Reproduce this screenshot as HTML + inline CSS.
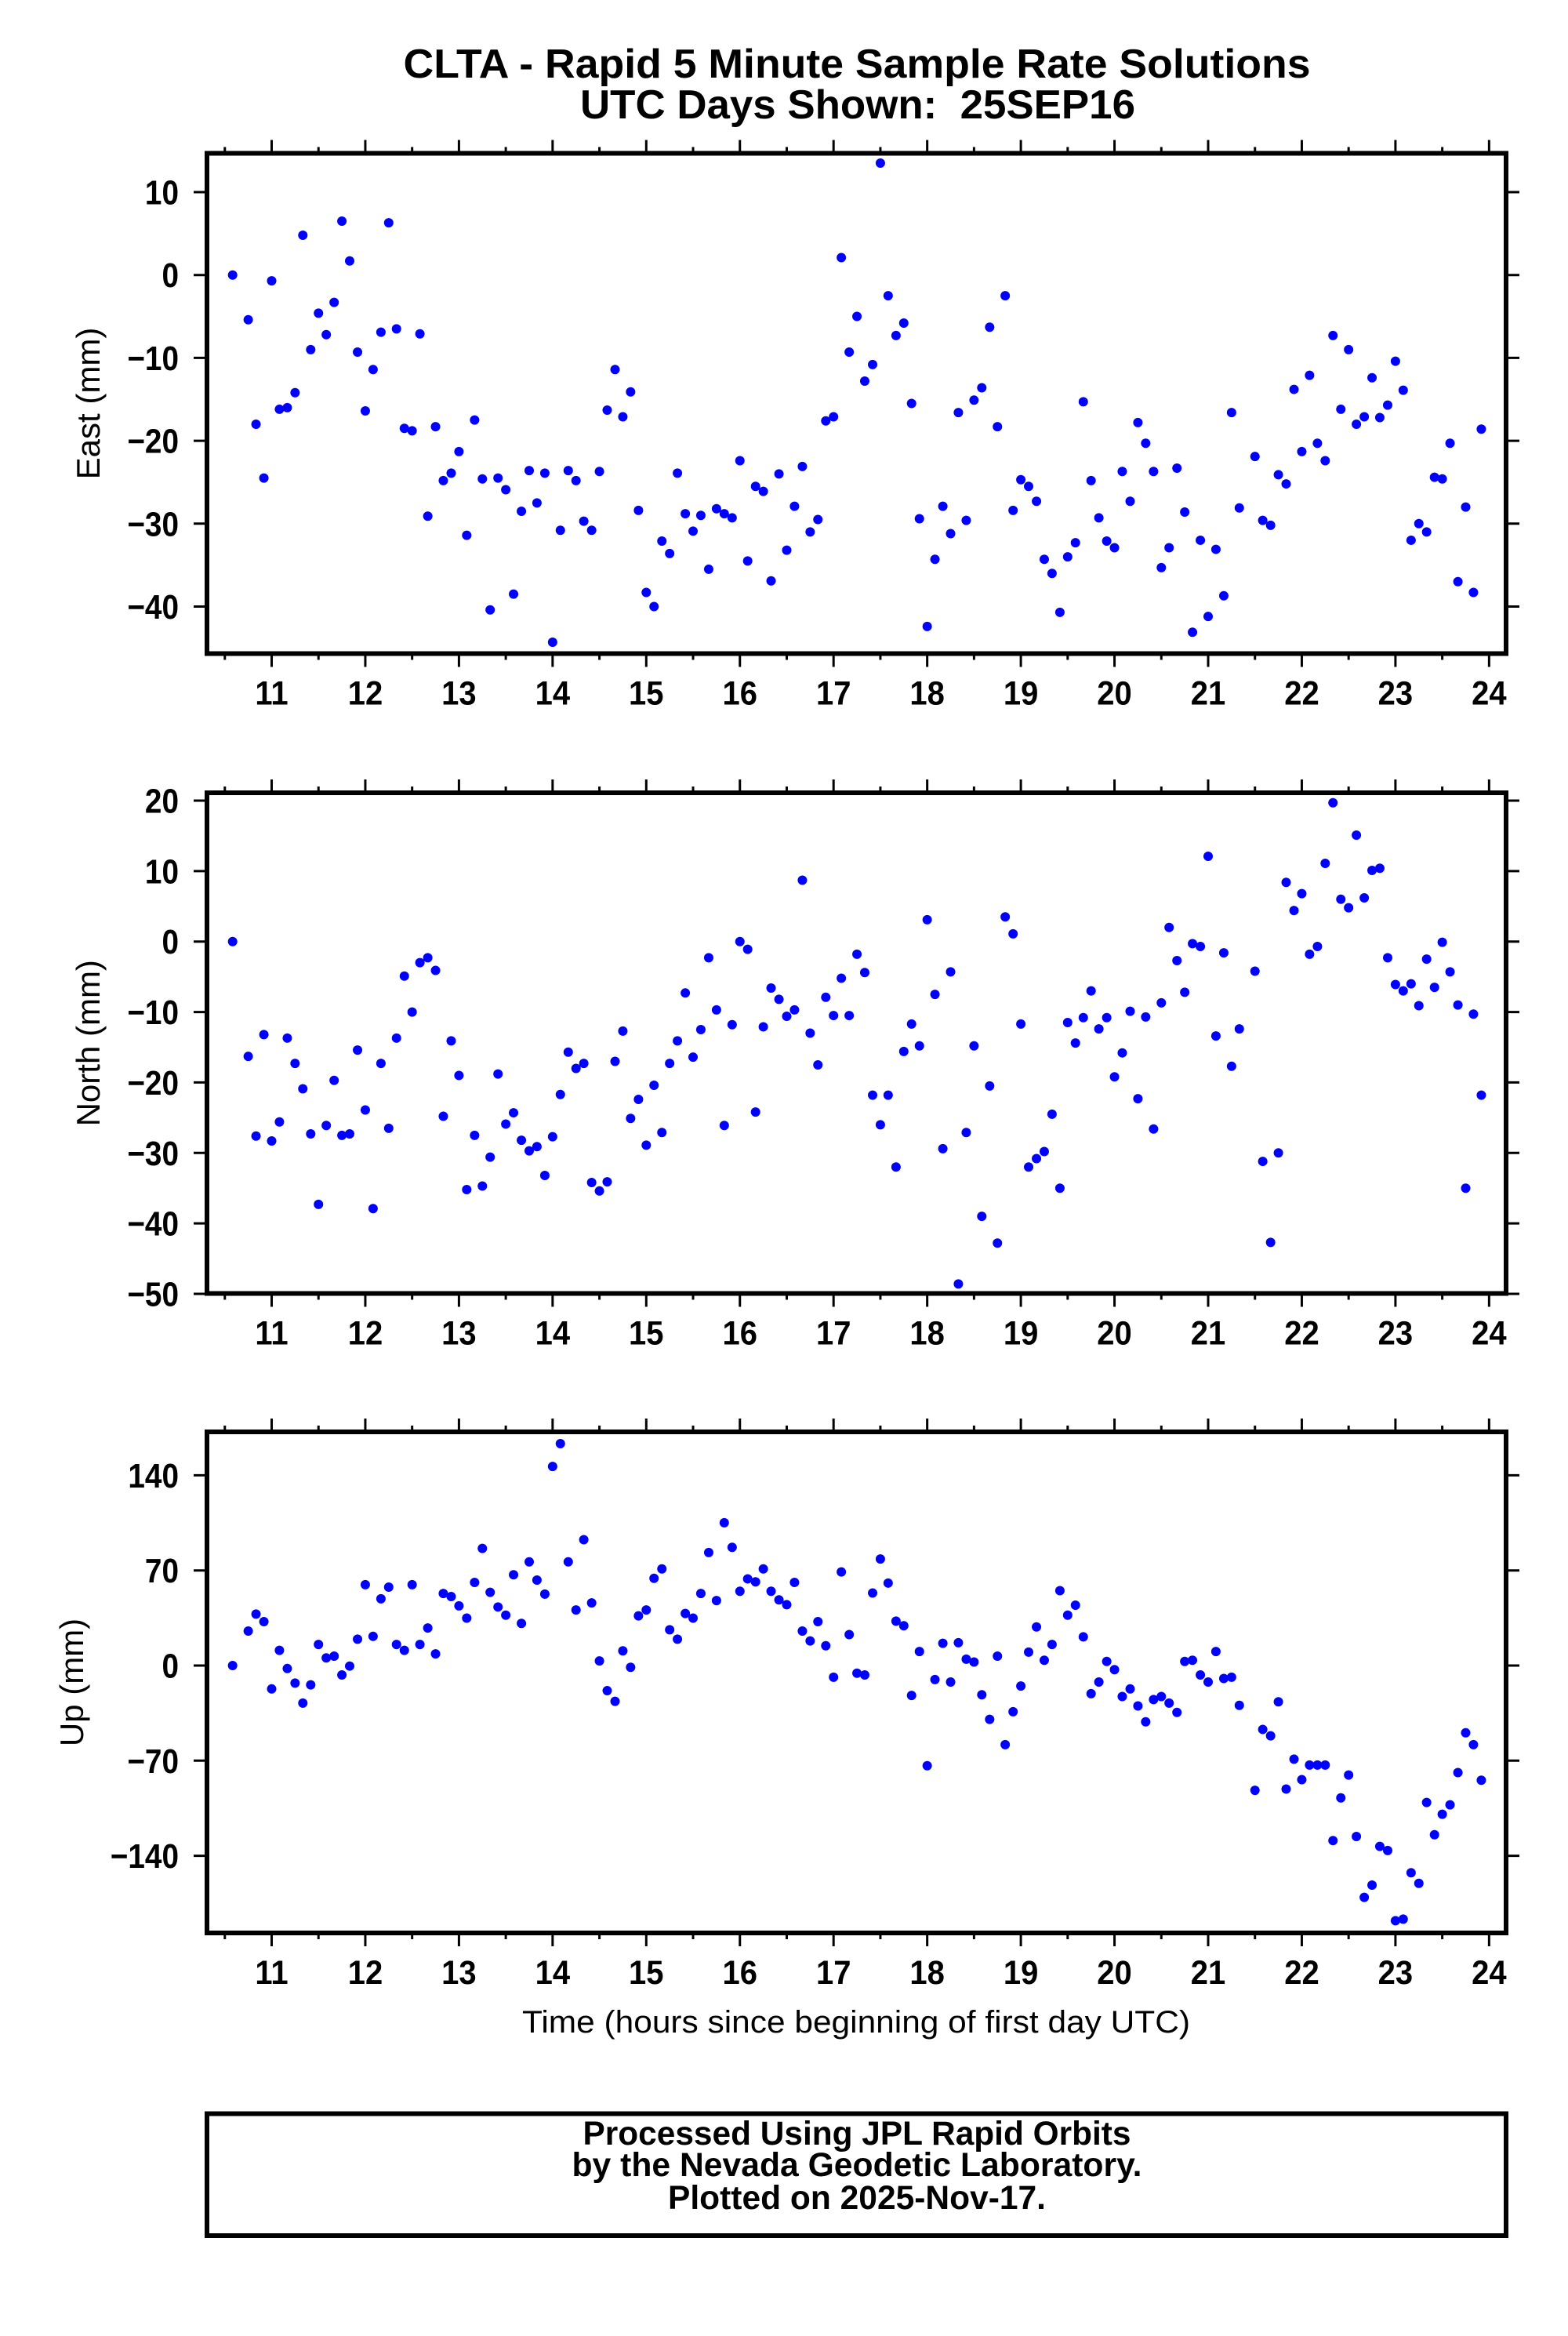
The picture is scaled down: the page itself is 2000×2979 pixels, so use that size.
<!DOCTYPE html>
<html><head><meta charset="utf-8"><title>CLTA Rapid 5 Minute Solutions</title>
<style>html,body{margin:0;padding:0;background:#fff}svg{display:block}</style></head>
<body>
<svg id="chart" xmlns="http://www.w3.org/2000/svg" width="2000" height="2979" viewBox="0 0 2000 2979" font-family="Liberation Sans, Arial, sans-serif">
<rect width="2000" height="2979" fill="#fff"/>
<g font-weight="bold" font-size="52" text-anchor="middle">
<text x="1093" y="99" textLength="1157" lengthAdjust="spacingAndGlyphs">CLTA - Rapid 5 Minute Sample Rate Solutions</text>
<text x="1094" y="151" textLength="708" lengthAdjust="spacingAndGlyphs">UTC Days Shown:&#160; 25SEP16</text>
</g>
<g id="plots"></g>
<text x="1092" y="2592" font-size="40" text-anchor="middle" textLength="852" lengthAdjust="spacingAndGlyphs">Time (hours since beginning of first day UTC)</text>
<g>
<rect x="264" y="2695.5" width="1657" height="155.5" fill="none" stroke="#000" stroke-width="6"/>
<g font-weight="bold" font-size="43" text-anchor="middle">
<text x="1093" y="2735" textLength="699" lengthAdjust="spacingAndGlyphs">Processed Using JPL Rapid Orbits</text>
<text x="1093" y="2775" textLength="727" lengthAdjust="spacingAndGlyphs">by the Nevada Geodetic Laboratory.</text>
<text x="1093" y="2817" textLength="482" lengthAdjust="spacingAndGlyphs">Plotted on 2025-Nov-17.</text>
</g></g>
</svg>
<script>
const times = [10.583,10.750,10.833,10.917,
11.000,11.083,11.167,11.250,11.333,11.417,11.500,11.583,11.667,11.750,11.833,11.917,
12.000,12.083,12.167,12.250,12.333,12.417,12.500,12.583,12.667,12.750,12.833,12.917,
13.000,13.083,13.167,13.250,13.333,13.417,13.500,13.583,13.667,13.750,13.833,13.917,
14.000,14.083,14.167,14.250,14.333,14.417,14.500,14.583,14.667,14.750,14.833,14.917,
15.000,15.083,15.167,15.250,15.333,15.417,15.500,15.583,15.667,15.750,15.833,15.917,
16.000,16.083,16.167,16.250,16.333,16.417,16.500,16.583,16.667,16.750,16.833,16.917,
17.000,17.083,17.167,17.250,17.333,17.417,17.500,17.583,17.667,17.750,17.833,17.917,
18.000,18.083,18.167,18.250,18.333,18.417,18.500,18.583,18.667,18.750,18.833,18.917,
19.000,19.083,19.167,19.250,19.333,19.417,19.500,19.583,19.667,19.750,19.833,19.917,
20.000,20.083,20.167,20.250,20.333,20.417,20.500,20.583,20.667,20.750,20.833,20.917,
21.000,21.083,21.167,21.250,21.333,21.500,21.583,21.667,21.750,21.833,21.917,
22.000,22.083,22.167,22.250,22.333,22.417,22.500,22.583,22.667,22.750,22.833,22.917,
23.000,23.083,23.167,23.250,23.333,23.417,23.500,23.583,23.667,23.750,23.833,23.917];
const eastValues = [0,-5.4,-18.0,-24.5,
-0.7,-16.2,-16.0,-14.2,4.8,-9.0,-4.6,-7.2,-3.3,6.5,1.7,-9.3,
-16.4,-11.4,-6.9,6.3,-6.5,-18.5,-18.8,-7.1,-29.1,-18.3,-24.8,-23.9,
-21.3,-31.4,-17.5,-24.6,-40.4,-24.5,-25.9,-38.5,-28.5,-23.6,-27.5,-23.9,
-44.3,-30.8,-23.6,-24.8,-29.7,-30.8,-23.7,-16.3,-11.4,-17.1,-14.1,-28.4,
-38.3,-40.0,-32.1,-33.6,-23.9,-28.8,-30.9,-29.0,-35.5,-28.2,-28.8,-29.3,
-22.4,-34.5,-25.5,-26.1,-36.9,-24.0,-33.2,-27.9,-23.1,-31.0,-29.5,-17.6,
-17.1,2.1,-9.3,-5.0,-12.8,-10.8,13.5,-2.5,-7.3,-5.8,-15.5,-29.4,
-42.4,-34.3,-27.9,-31.2,-16.6,-29.6,-15.1,-13.6,-6.3,-18.3,-2.5,-28.4,
-24.7,-25.5,-27.3,-34.3,-36.0,-40.7,-34.0,-32.3,-15.3,-24.8,-29.3,-32.1,
-32.9,-23.7,-27.3,-17.8,-20.3,-23.7,-35.3,-32.9,-23.3,-28.6,-43.1,-32.0,
-41.2,-33.1,-38.7,-16.6,-28.1,-21.9,-29.6,-30.2,-24.1,-25.2,-13.8,
-21.3,-12.1,-20.3,-22.4,-7.3,-16.2,-9.0,-18.0,-17.1,-12.4,-17.2,-15.7,
-10.4,-13.9,-32.0,-30.0,-31.0,-24.4,-24.6,-20.3,-37.0,-28.0,-38.3,-18.6];
const northValues = [0,-16.3,-27.6,-13.2,
-28.3,-25.6,-13.7,-17.3,-20.9,-27.3,-37.3,-26.1,-19.7,-27.5,-27.3,-15.4,
-23.9,-37.9,-17.3,-26.5,-13.7,-4.9,-10.0,-3.0,-2.3,-4.1,-24.8,-14.1,
-19.0,-35.2,-27.5,-34.7,-30.6,-18.8,-25.9,-24.3,-28.2,-29.7,-29.1,-33.2,
-27.7,-21.7,-15.7,-18.0,-17.3,-34.2,-35.4,-34.1,-17.0,-12.7,-25.1,-22.4,
-28.9,-20.4,-27.1,-17.3,-14.1,-7.3,-16.4,-12.5,-2.3,-9.7,-26.1,-11.8,
0,-1.1,-24.2,-12.1,-6.6,-8.2,-10.6,-9.7,8.7,-13.0,-17.5,-7.9,
-10.5,-5.2,-10.5,-1.8,-4.4,-21.8,-26.0,-21.8,-32.0,-15.6,-11.7,-14.8,
3.1,-7.5,-29.4,-4.3,-48.6,-27.1,-14.8,-39.0,-20.5,-42.8,3.5,1.1,
-11.7,-32.0,-30.8,-29.8,-24.5,-35.0,-11.5,-14.4,-10.8,-7.0,-12.4,-10.8,
-19.2,-15.8,-9.9,-22.3,-10.7,-26.6,-8.7,2.0,-2.7,-7.2,-0.3,-0.7,
12.1,-13.4,-1.6,-17.7,-12.4,-4.2,-31.2,-42.7,-30.0,8.4,4.4,
6.8,-1.8,-0.7,11.1,19.7,6.0,4.8,15.1,6.2,10.1,10.4,-2.3,
-6.1,-7.0,-6.0,-9.1,-2.5,-6.5,-0.1,-4.3,-9.0,-35.0,-10.3,-21.8];
const upValues = [0,25.4,37.9,32.3,
-17.2,11.2,-2.2,-12.9,-27.6,-14.2,15.5,5.6,6.9,-6.9,-0.4,19.4,
59.5,21.5,49.1,57.7,15.5,11.2,59.5,15.5,27.6,8.6,53.0,50.8,
43.9,34.9,61.2,86.2,53.9,43.1,37.1,66.8,31.0,76.3,62.9,52.6,
146.5,163.3,76.3,40.9,92.6,46.1,3.4,-18.5,-26.3,10.8,-1.3,36.6,
40.9,64.2,71.1,26.3,19.4,38.3,34.9,53.0,83.2,47.8,105.1,87.0,
54.7,63.8,61.6,71.1,54.7,48.3,44.8,61.2,25.4,18.1,32.3,14.6,
-8.6,68.9,22.8,-5.6,-6.9,53.4,78.4,60.7,32.7,29.3,-22.0,10.3,
-73.7,-10.3,16.4,-12.1,16.8,4.7,2.6,-21.5,-39.6,6.9,-58.2,-34.0,
-15.1,9.9,28.4,3.9,15.5,55.1,37.1,44.4,21.1,-20.7,-12.1,3.0,
-3.0,-22.8,-17.2,-29.7,-41.4,-25.0,-22.8,-27.6,-34.5,3.0,3.9,-6.9,
-12.1,10.3,-9.5,-8.6,-29.3,-91.8,-47.0,-51.7,-26.7,-90.9,-68.9,
-84.0,-73.2,-73.2,-73.2,-128.8,-97.4,-80.6,-125.8,-170.6,-161.6,-133.1,-136.1,
-187.8,-186.6,-152.5,-160.3,-100.8,-124.5,-109.4,-102.5,-78.8,-49.5,-58.2,-84.4];
const xTickLabels = ["11","12","13","14","15","16","17","18","19","20","21","22","23","24"];
const eastTicks = [10,0,-10,-20,-30,-40];
const northTicks = [20,10,0,-10,-20,-30,-40,-50];
const upTicks = [140,70,0,-70,-140];

const NS = "http://www.w3.org/2000/svg";
const L = 264, R = 1921;
function xScale(h){ return 346.5 + (h - 11) * 119.45; }
function mk(tag, attrs, parent){
  const e = document.createElementNS(NS, tag);
  for (const k in attrs) e.setAttribute(k, attrs[k]);
  parent.appendChild(e); return e;
}
const root = document.getElementById('plots');
const panels = [
  {name:'east', title:'East (mm)', tx:127, top:195.5, bottom:833.5, v0:10, y0:245, v1:-40, y1:773.5, ticks:eastTicks, vals:eastValues},
  {name:'north', title:'North (mm)', tx:127, top:1011, bottom:1649.5, v0:20, y0:1021, v1:-50, y1:1650, ticks:northTicks, vals:northValues},
  {name:'up', title:'Up (mm)', tx:106, top:1826, bottom:2465, v0:70, y0:2002.7, v1:0, y1:2124, ticks:upTicks, vals:upValues}
];
panels.forEach(p => {
  const yScale = v => p.y0 + (v - p.v0) * (p.y1 - p.y0) / (p.v1 - p.v0);
  const g = mk('g', {}, root);
  
  
  const tg = mk('g', {stroke:'#000','stroke-width':3}, g);
  
  
  for (let h = 10.5; h <= 24.01; h += 0.5){
    const x = xScale(h), major = Math.abs(h - Math.round(h)) < 0.01;
    const len = major ? 17 : 8;
    mk('line', {x1:x, x2:x, y1:p.top, y2:p.top - len}, tg);
    mk('line', {x1:x, x2:x, y1:p.bottom, y2:p.bottom + len}, tg);
  }
  const lg = mk('g', {'font-weight':'bold','font-size':43,'text-anchor':'middle'}, g);
  
  
  xTickLabels.forEach(lbl => {
    const t = mk('text', {transform:`translate(${xScale(+lbl)},${p.bottom + 65}) scale(0.93,1)`}, lg);
    t.textContent = lbl;
  });
  const yg = mk('g', {'font-weight':'bold','font-size':44,'text-anchor':'end'}, g);
  
  
  p.ticks.forEach(v => {
    const y = yScale(v);
    mk('line', {x1:L, x2:L - 17, y1:y, y2:y, stroke:'#000','stroke-width':3}, yg);
    mk('line', {x1:R, x2:R + 17, y1:y, y2:y, stroke:'#000','stroke-width':3}, yg);
    const t = mk('text', {transform:`translate(228,${y + 15.5}) scale(0.88,1)`}, yg);
    t.textContent = (v < 0 ? '\u2212' : '') + Math.abs(v);
  });
  const at = mk('text', {transform:`translate(${p.tx},${(p.top + p.bottom) / 2}) rotate(-90)`, 'font-size':42, 'text-anchor':'middle'}, g);
  
  
  at.textContent = p.title;
  const pg = mk('g', {fill:'#0000ff'}, g);
  
  
  p.vals.forEach((v, i) => {
    const c = mk('circle', {cx:xScale(times[i]), cy:yScale(v), r:6}, pg);
    
    
  });
  const fr = mk('rect', {x:L, y:p.top, width:R - L, height:p.bottom - p.top, fill:'none', stroke:'#000','stroke-width':6}, g);
  
  
});
</script>
</body></html>
